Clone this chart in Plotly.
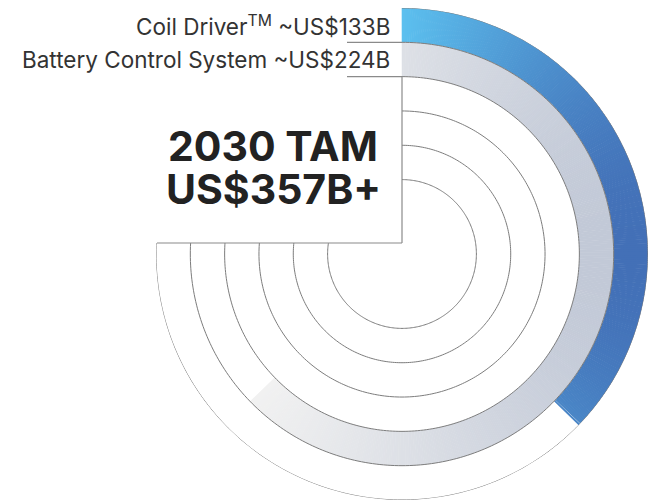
import numpy as np
import plotly.graph_objects as go

# ---- data ----
total_tam = 357  # US$B, full circle
segments = ["Coil Driver", "Battery Control System"]
segment_values = [133, 224]  # US$B
segment_labels = ["Coil Driver<sup>TM</sup> ~US$133B", "Battery Control System ~US$224B"]
ring_index = [0, 1]  # 0 = outermost ring
n_rings = 5
title_lines = ["2030 TAM", "US$357B+"]

# gradient colours (left -> right)
grad_colors = [("#5cc0ef", "#4370b7"), ("#f1f1f1", "#c2c9d7")]

# ---- geometry / style ----
W, H = 648, 504
R_OUT = 248.0
R_IN = 75.0
ring_w = (R_OUT - R_IN) / n_rings
R_PX = 246.0
CX, CY = 648 - R_PX, 254.0
ARC_END = 286  # arcs run slightly past 9 o'clock; hidden behind label box

def px(x):
    return x / W

def py(y):
    return 1 - y / H

def hex2rgb(h):
    h = h.lstrip("#")
    return np.array([int(h[i:i + 2], 16) for i in (0, 2, 4)], float)

def lerp(c0, c1, t):
    a, b = hex2rgb(c0), hex2rgb(c1)
    c = a + (b - a) * t
    return "rgb(%d,%d,%d)" % tuple(np.round(c))

fig = go.Figure()

step = 0.5
for name, val, ri, (c0, c1) in zip(segments, segment_values, ring_index, grad_colors):
    deg = val / total_tam * 360.0
    thetas = np.arange(step / 2, deg, step)
    xs = np.sin(np.radians(thetas))
    xs_all = np.append(xs, [0.0, np.sin(np.radians(deg))])
    if deg > 90:
        xs_all = np.append(xs_all, 1.0)
    xmin, xmax = xs_all.min(), xs_all.max()
    t = (xs - xmin) / (xmax - xmin)
    base = R_OUT - (ri + 1) * ring_w
    widths = np.full(len(thetas), step * 1.3)
    widths[-1] = step
    thetas[-1] = deg - step / 2
    fig.add_trace(go.Barpolar(
        theta=thetas, r=[ring_w] * len(thetas), base=[base] * len(thetas),
        width=widths,
        marker=dict(color=[lerp(c0, c1, v) for v in t], line=dict(width=0)),
        name=name, showlegend=False, hoverinfo="skip"))

# ring outlines
arc_theta = np.arange(0, ARC_END + 1, 1.0)
for k in range(n_rings + 1):
    r = R_IN + k * ring_w
    fig.add_trace(go.Scatterpolar(
        theta=arc_theta, r=[r] * len(arc_theta), mode="lines",
        line=dict(color="#7c7c7c", width=1), showlegend=False, hoverinfo="skip"))

scale = R_PX / R_OUT
y_box_top = CY - (R_OUT - 2 * ring_w) * scale
y_box_bot = 243
shapes = [
    dict(type="rect", xref="paper", yref="paper", x0=0, x1=px(CX), y0=py(y_box_bot), y1=py(y_box_top),
         fillcolor="white", line=dict(width=0), layer="above"),
    dict(type="line", xref="paper", yref="paper", x0=px(CX), x1=px(CX), y0=py(y_box_bot), y1=py(y_box_top),
         line=dict(color="#8a8a8a", width=1.2), layer="above"),
    dict(type="line", xref="paper", yref="paper", x0=px(157), x1=px(CX), y0=py(y_box_bot), y1=py(y_box_bot),
         line=dict(color="#8a8a8a", width=1.2), layer="above"),
]
for ri in ring_index:
    yb = CY - (R_OUT - (ri + 1) * ring_w) * scale
    shapes.append(dict(type="line", xref="paper", yref="paper", x0=px(347), x1=px(CX), y0=py(yb), y1=py(yb),
                       line=dict(color="#8a8a8a", width=1.2), layer="above"))

annotations = []
label_y = [25, 59]
for lab, ly in zip(segment_labels, label_y):
    annotations.append(dict(text=lab, x=px(392), y=py(ly), xref="paper", yref="paper",
                            xanchor="right", yanchor="middle", showarrow=False,
                            font=dict(family="Inter", size=22.5, color="#333333")))
for line, ly in zip(title_lines, [146, 189]):
    annotations.append(dict(text="<b>%s</b>" % line, x=px(273), y=py(ly), xref="paper", yref="paper",
                            xanchor="center", yanchor="middle", showarrow=False,
                            font=dict(family="Inter", size=41, color="#222222")))

fig.update_layout(
    width=W, height=H, margin=dict(l=0, r=0, t=0, b=0),
    paper_bgcolor="white", plot_bgcolor="white",
    polar=dict(
        domain=dict(x=[(CX - R_PX) / W, 1.0], y=[py(CY + R_PX), py(CY - R_PX)]),
        bgcolor="rgba(0,0,0,0)",
        radialaxis=dict(range=[0, R_OUT], visible=False),
        angularaxis=dict(visible=False, rotation=90, direction="clockwise"),
        bargap=0,
    ),
    shapes=shapes, annotations=annotations, showlegend=False,
)

fig.write_html("out.html")
